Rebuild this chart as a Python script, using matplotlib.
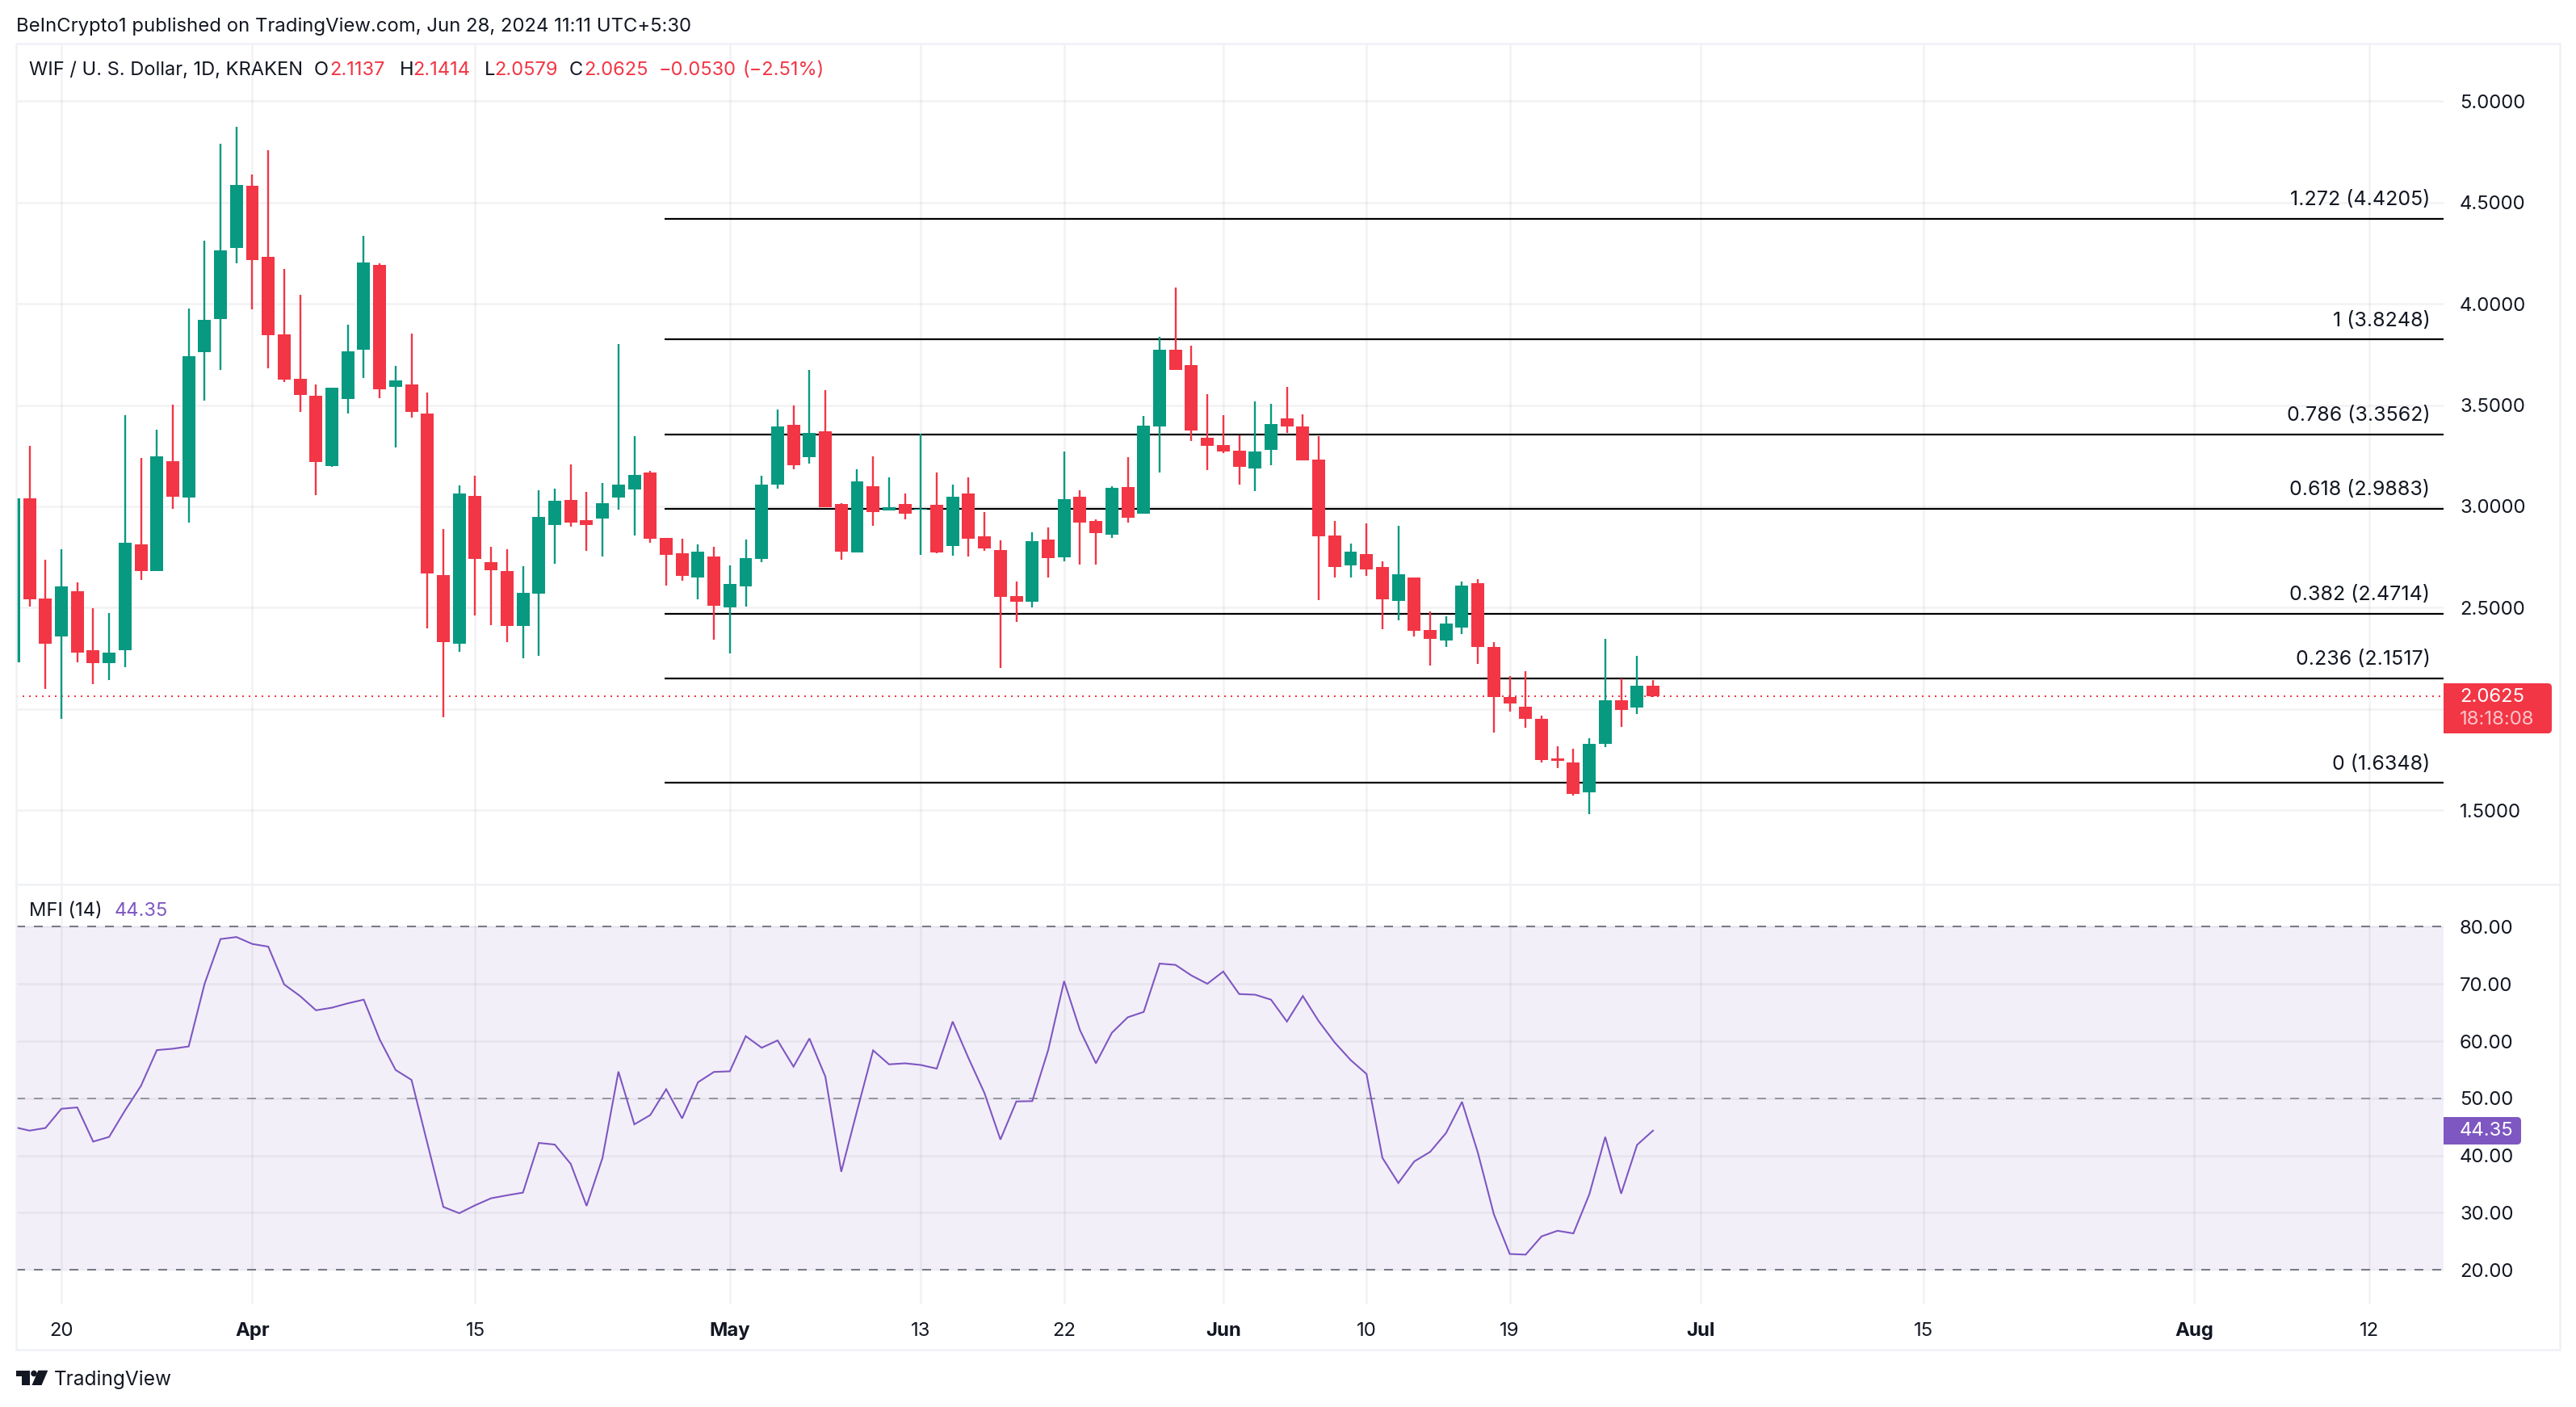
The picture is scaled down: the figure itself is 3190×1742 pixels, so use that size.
import matplotlib
matplotlib.use('Agg')
import matplotlib.pyplot as plt
from matplotlib.patches import FancyBboxPatch, Polygon, Circle, Rectangle
import numpy as np

W, H = 3190, 1742

# days counted from Mar 20
days = np.arange(-3, 101)

opens = [2.229,3.039,2.545,2.357,2.583,2.292,2.225,2.292,2.811,2.681,
         3.222,3.043,3.761,3.924,4.276,4.581,4.231,3.849,3.629,3.545,
         3.198,3.529,3.773,4.190,3.588,3.600,3.458,2.661,2.321,3.051,
         2.724,2.683,2.412,2.569,2.907,3.031,2.931,2.939,3.043,3.082,
         3.169,2.844,2.768,2.648,2.752,2.500,2.604,2.739,3.109,3.404,
         3.245,3.369,3.010,2.771,3.101,2.979,3.010,2.983,3.007,2.804,
         3.065,2.851,2.784,2.557,2.529,2.836,2.747,3.046,2.930,2.862,
         3.094,2.966,3.396,3.773,3.696,3.338,3.303,3.275,3.187,3.279,
         3.435,3.394,3.231,2.856,2.708,2.765,2.701,2.532,2.649,2.389,
         2.338,2.402,2.620,2.305,2.060,2.011,1.950,1.756,1.736,1.588,
         1.828,2.044,2.007,2.1137]
highs = [3.039,3.297,2.736,2.787,2.624,2.496,2.473,3.450,3.238,3.379,
         3.501,3.977,4.310,4.788,4.874,4.638,4.758,4.172,4.044,3.600,
         3.584,3.895,4.335,4.198,3.692,3.853,3.562,2.887,3.102,3.151,
         2.799,2.787,2.707,3.080,3.086,3.206,3.072,3.114,3.800,3.346,
         3.174,2.844,2.839,2.812,2.799,2.708,2.836,3.153,3.479,3.500,
         3.674,3.575,3.015,3.185,3.249,3.145,3.062,3.359,3.166,3.109,
         3.145,2.971,2.831,2.628,2.872,2.898,3.273,3.078,2.935,3.098,
         3.245,3.445,3.838,4.079,3.793,3.553,3.449,3.350,3.517,3.506,
         3.590,3.455,3.347,2.928,2.816,2.917,2.728,2.904,2.649,2.481,
         2.457,2.629,2.640,2.329,2.163,2.186,1.967,1.815,1.804,1.855,
         2.346,2.152,2.261,2.1414]
lows = [2.229,2.506,2.101,1.953,2.229,2.122,2.142,2.205,2.636,2.681,
        2.990,2.919,3.521,3.674,4.198,3.973,3.680,3.613,3.466,3.055,
        3.194,3.458,3.633,3.533,3.289,3.438,2.400,1.961,2.284,2.461,
        2.416,2.329,2.250,2.262,2.716,2.899,2.781,2.752,2.986,2.856,
        2.820,2.609,2.633,2.541,2.341,2.274,2.505,2.724,3.086,3.182,
        3.210,2.997,2.736,2.771,2.906,2.979,2.935,2.760,2.768,2.755,
        2.752,2.779,2.203,2.429,2.500,2.651,2.729,2.711,2.711,2.844,
        2.922,2.966,3.169,3.674,3.323,3.178,3.262,3.107,3.076,3.202,
        3.361,3.226,2.538,2.649,2.649,2.657,2.393,2.437,2.358,2.214,
        2.305,2.371,2.223,1.883,1.987,1.908,1.738,1.709,1.573,1.482,
        1.811,1.912,1.976,2.0579]
closes = [3.039,2.541,2.321,2.604,2.278,2.225,2.278,2.819,2.681,3.246,
          3.049,3.741,3.920,4.264,4.585,4.215,3.845,3.625,3.549,3.218,
          3.584,3.765,4.202,3.578,3.621,3.466,2.669,2.329,3.063,2.740,
          2.687,2.412,2.573,2.947,3.027,2.919,2.907,3.015,3.106,3.155,
          2.839,2.760,2.656,2.776,2.510,2.617,2.744,3.109,3.393,3.205,
          3.361,2.997,2.776,3.122,2.971,2.997,2.966,2.990,2.771,3.046,
          2.839,2.791,2.552,2.529,2.828,2.744,3.034,2.919,2.867,3.090,
          2.943,3.400,3.775,3.674,3.374,3.299,3.270,3.195,3.270,3.405,
          3.394,3.226,2.853,2.701,2.776,2.688,2.541,2.664,2.386,2.346,
          2.421,2.609,2.305,2.060,2.027,1.950,1.747,1.745,1.581,1.828,
          2.044,1.994,2.115,2.0625]

mfi = [44.99,44.35,44.81,48.17,48.41,42.43,43.25,47.88,52.17,58.43,
       58.67,59.07,70.03,77.85,78.20,76.99,76.52,69.91,67.88,65.39,
       65.85,66.61,67.25,60.29,54.96,53.22,42.09,31.01,29.91,31.30,
       32.52,33.04,33.51,42.20,41.91,38.55,31.19,39.59,54.67,45.45,
       47.07,51.59,46.49,52.81,54.61,54.72,60.87,58.84,60.12,55.54,
       60.46,53.80,37.16,47.88,58.38,55.94,56.12,55.83,55.19,63.42,
       56.99,50.90,42.78,49.45,49.51,58.43,70.49,61.91,56.12,61.45,
       64.17,65.10,73.56,73.33,71.48,70.03,72.17,68.23,68.12,67.25,
       63.42,67.88,63.48,59.77,56.70,54.26,39.59,35.19,38.96,40.64,
       43.94,49.39,40.46,29.74,22.78,22.67,25.86,26.84,26.38,33.22,
       43.25,33.33,41.85,44.35]

fib_ratios = ['1.272', '1', '0.786', '0.618', '0.382', '0.236', '0']
fib_prices = [4.4205, 3.8248, 3.3562, 2.9883, 2.4714, 2.1517, 1.6348]
fib_start = 37.9

last_price = 2.0625
last_mfi = 44.35

price_ticks = [1.5, 2.0, 2.5, 3.0, 3.5, 4.0, 4.5, 5.0]
mfi_ticks = [20, 30, 40, 50, 60, 70, 80]
time_ticks = [0, 12, 26, 42, 54, 63, 73, 82, 91, 103, 117, 134, 145]
time_labels = ['20', 'Apr', '15', 'May', '13', '22', 'Jun', '10', '19', 'Jul', '15', 'Aug', '12']
month_labels = ['Apr', 'May', 'Jun', 'Jul', 'Aug']

GREEN = '#089981'
RED = '#f23645'
PURPLE = '#7e57c2'
TEXT = '#131722'
FRAME = '#f0f1f5'
GRID = '#2a2e39'

plt.rcParams['font.family'] = ['Inter', 'DejaVu Sans']
FS = 8.6


def pane(left, top, right, bottom):
    return [left / W, 1 - bottom / H, (right - left) / W, (bottom - top) / H]


fig = plt.figure(figsize=(W / 200, H / 200), dpi=200, facecolor='white')
ax = fig.add_axes(pane(20, 54, 3026, 1095))
ax2 = fig.add_axes(pane(20, 1095, 3026, 1615), sharex=ax)

xlim = (-2.84, 149.67)

# price pane
for a in (ax, ax2):
    a.set_facecolor('none')
    for s in a.spines.values():
        s.set_visible(False)
    a.yaxis.tick_right()
    a.grid(True, color=GRID, alpha=0.06, lw=0.9)
    a.set_axisbelow(True)
    a.tick_params(length=0, pad=7.2, labelsize=FS, labelcolor=TEXT)

ax.set_xlim(*xlim)
ax.set_ylim(1.1345, 5.284)
ax.set_yticks(price_ticks)
ax.set_yticklabels(['' if p == 2.0 else f'{p:.4f}' for p in price_ticks])
ax.set_xticks(time_ticks)
ax.tick_params(axis='x', labelbottom=False)

ax.axhline(last_price, color=RED, lw=0.72, ls=(0, (1, 3)), zorder=1)

up = np.array(closes) >= np.array(opens)
colors = [GREEN if u else RED for u in up]
ax.vlines(days, lows, highs, colors=colors, lw=0.85, zorder=3)
body_low = np.minimum(opens, closes)
body_h = np.abs(np.array(closes) - np.array(opens))
ax.bar(days, body_h, bottom=body_low, width=0.81, color=colors, lw=0, zorder=3)

for ratio, price in zip(fib_ratios, fib_prices):
    ax.plot([fib_start, xlim[1]], [price, price], color='black', lw=0.8, zorder=2, solid_capstyle='butt')
    ax.annotate(f'{ratio} ({price:.4f})', xy=(0.9945, price), xycoords=ax.get_yaxis_transform(),
                xytext=(0, 8.3), textcoords='offset points', ha='right', va='center',
                fontsize=9.0, color=TEXT, zorder=4)

# mfi pane
ax2.set_ylim(13.96, 87.40)
ax2.set_yticks(mfi_ticks)
ax2.set_yticklabels([f'{m:.2f}' for m in mfi_ticks])
ax2.axhspan(20, 80, color=PURPLE, alpha=0.09, lw=0, zorder=0)
for level, alpha in ((80, 1), (50, 0.75), (20, 1)):
    ax2.axhline(level, color='#787b86', lw=0.72, ls=(0, (5.5, 5.5)), alpha=alpha, zorder=2)
ax2.plot(days, mfi, color=PURPLE, lw=0.75, zorder=3, solid_joinstyle='miter')
ax2.set_xticks(time_ticks)
ax2.set_xticklabels(time_labels)
ax2.tick_params(axis='x', pad=8)
for lab in ax2.get_xticklabels():
    if lab.get_text() in month_labels:
        lab.set_fontweight('bold')

# frame, labels and logo in pixel coordinates
over = fig.add_axes([0, 0, 1, 1], zorder=5)
over.set_xlim(0, W)
over.set_ylim(H, 0)
over.axis('off')
over.add_patch(Rectangle((20, 54), 3150, 1617, fill=False, ec=FRAME, lw=0.9))
over.plot([20, 3170], [1095, 1095], color=FRAME, lw=0.9)


def price_box(x0, y0, x1, y1, color):
    over.add_patch(Rectangle((x0, y0), x1 - x0 - 6, y1 - y0, fc=color, ec='none'))
    over.add_patch(FancyBboxPatch((x0 + 6, y0), x1 - x0 - 6, y1 - y0, boxstyle='round,pad=0,rounding_size=5',
                                  fc=color, ec='none'))


price_box(3026, 846, 3160, 908, RED)
over.text(3046, 863, '2.0625', color='white', fontsize=FS, va='center')
over.text(3046, 891, '18:18:08', color='#fbc5ca', fontsize=FS, va='center')
price_box(3026, 1383, 3122, 1417, PURPLE)
over.text(3046, 1400, '44.35', color='white', fontsize=FS, va='center')

over.text(20, 33, 'BeInCrypto1 published on TradingView.com, Jun 28, 2024 11:11 UTC+5:30', color=TEXT,
          fontsize=8.6, va='center')
over.text(36, 87, 'WIF / U. S. Dollar, 1D, KRAKEN', color=TEXT, fontsize=8.5, va='center')
for x, s in ((389, 'O'), (495, 'H'), (600, 'L'), (705, 'C')):
    over.text(x, 87, s, color=TEXT, fontsize=8.5, va='center')
for x, s in ((408, '2.1137'), (511, '2.1414'), (612, '2.0579'), (723, '2.0625'), (816, '−0.0530'), (919, '(−2.51%)')):
    over.text(x, 87, s, color=RED, fontsize=8.5, va='center')
over.text(36, 1128, 'MFI (14)', color=TEXT, fontsize=8.5, va='center')
over.text(142, 1128, '44.35', color=PURPLE, fontsize=8.5, va='center')

# TradingView logo
over.add_patch(Polygon([(20, 1696.7), (36.7, 1696.7), (36.7, 1715), (27.3, 1715), (27.3, 1704), (20, 1704)],
                       fc=TEXT, ec='none'))
over.add_patch(Circle((42, 1700.5), 3.8, fc=TEXT, ec='none'))
over.add_patch(Polygon([(47.3, 1696.7), (59.3, 1696.7), (51.5, 1715), (39.5, 1715)], fc=TEXT, ec='none'))
over.text(67, 1708, 'TradingView', color=TEXT, fontsize=8.8, va='center')

plt.savefig('out.png', dpi=200)
